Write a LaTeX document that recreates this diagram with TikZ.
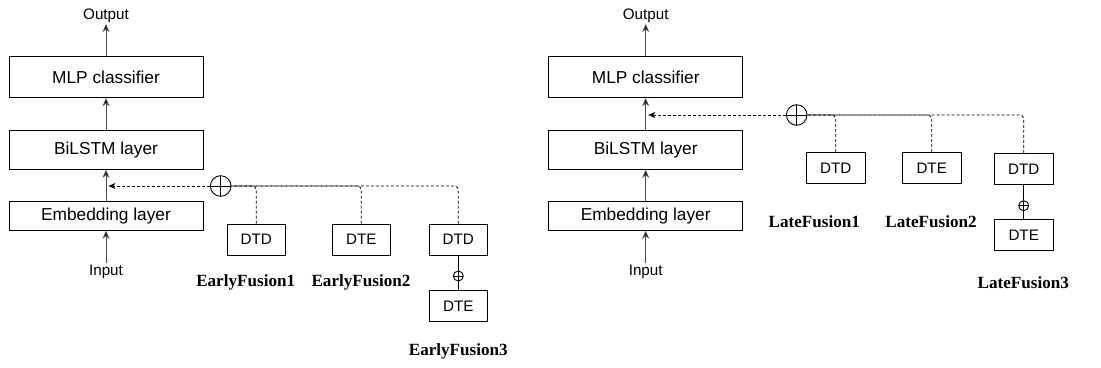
\documentclass[tikz,border=0pt]{standalone}
\usepackage{fontspec}
\setmainfont{Liberation Serif}
\setsansfont{Liberation Sans}
\usetikzlibrary{arrows.meta}

\begin{document}
\begin{tikzpicture}[x=1pt, y=-1pt, line width=0.9pt,
    layer/.style={draw, minimum width=194pt, inner sep=0pt, font=\sffamily\fontsize{17.3}{20}\selectfont},
    feat/.style={draw, minimum width=58.5pt, minimum height=31pt, inner sep=0pt, font=\sffamily\fontsize{15.2}{18}\selectfont},
    io/.style={inner sep=1pt, font=\sffamily\fontsize{15.2}{18}\selectfont},
    fusename/.style={font=\bfseries\fontsize{17.1}{20}\selectfont},
    bigplus/.style={draw, circle, minimum size=20.6pt, inner sep=0pt,
      path picture={\draw[line width=0.8pt] (path picture bounding box.north) -- (path picture bounding box.south)
        (path picture bounding box.west) -- (path picture bounding box.east);}},
    smallplus/.style={bigplus, minimum size=10pt},
    flow/.style={draw=black!70, -{Stealth[length=8pt, width=7pt, inset=2.5pt, fill=black]}},
    fuse/.style={draw=black, dashed, dash pattern=on 3pt off 2pt, line width=0.8pt, rounded corners=4pt}]
			\useasboundingbox (0,0) rectangle (1101,367);

			% early fusion
			\node[io] (out1) at (106, 15.7) {Output};
			\node[layer, minimum height=41pt] (mlp1) at (106, 77.2) {MLP classifier};
			\node[layer, minimum height=39.3pt] (bilstm1) at (106, 149.7) {BiLSTM layer};
			\node[layer, minimum height=29pt] (emb1) at (106, 215.8) {Embedding layer};
			\node[io] (in1) at (106, 271.7) {Input};
			\node[bigplus] (plus1) at (220.7, 186) {};
			\coordinate (tip1) at (108.5, 186);
			\node[feat] (dtdA) at (256.3, 239.5) {DTD};
			\node[feat] (dteB) at (361.3, 239.5) {DTE};
			\node[feat] (dtdC) at (458.3, 239.5) {DTD};
			\node[smallplus] (oplusC) at (458.3, 276) {};
			\node[feat] (dteC) at (458.3, 306.2) {DTE};
			\node[fusename] (ef1) at (245.7, 282.7) {EarlyFusion1};
			\node[fusename] (ef2) at (361, 282.7) {EarlyFusion2};
			\node[fusename] (ef3) at (458.3, 351.7) {EarlyFusion3};

			\draw[flow] (mlp1) -- (out1);
			\draw[flow] (bilstm1) -- (mlp1);
			\draw[flow] (emb1) -- (bilstm1);
			\draw[flow] (in1) -- (emb1);
			\draw[fuse] (dtdA.north) |- (plus1.east);
			\draw[fuse] (dteB.north) |- (plus1.east);
			\draw[fuse] (dtdC.north) |- (plus1.east);
			\draw[fuse, rounded corners=0pt, -{Stealth[length=7pt, width=6pt, inset=2pt, fill=black]}] (plus1) -- (tip1);
			\draw (dtdC) -- (oplusC);
			\draw (oplusC) -- (dteC);

			% late fusion
			\node[io] (out2) at (645.7, 15.7) {Output};
			\node[layer, minimum height=41pt] (mlp2) at (645.7, 77.2) {MLP classifier};
			\node[layer, minimum height=39.3pt] (bilstm2) at (645.7, 149.7) {BiLSTM layer};
			\node[layer, minimum height=29pt] (emb2) at (645.7, 215.8) {Embedding layer};
			\node[io] (in2) at (645.7, 271.7) {Input};
			\node[bigplus] (plus2) at (796.7, 115) {};
			\coordinate (tip2) at (648.3, 115);
			\node[feat] (dtdD) at (835.7, 168) {DTD};
			\node[feat] (dteE) at (931.7, 168) {DTE};
			\node[feat] (dtdF) at (1023.7, 168.8) {DTD};
			\node[smallplus] (oplusF) at (1023.7, 205.7) {};
			\node[feat] (dteF) at (1023.7, 235.3) {DTE};
			\node[fusename] (lf1) at (814.3, 221.7) {LateFusion1};
			\node[fusename] (lf2) at (931, 221.7) {LateFusion2};
			\node[fusename] (lf3) at (1023.3, 282.7) {LateFusion3};

			\draw[flow] (mlp2) -- (out2);
			\draw[flow] (bilstm2) -- (mlp2);
			\draw[flow] (emb2) -- (bilstm2);
			\draw[flow] (in2) -- (emb2);
			\draw[fuse] (dtdD.north) |- (plus2.east);
			\draw[fuse] (dteE.north) |- (plus2.east);
			\draw[fuse] (dtdF.north) |- (plus2.east);
			\draw[fuse, rounded corners=0pt, -{Stealth[length=7pt, width=6pt, inset=2pt, fill=black]}] (plus2) -- (tip2);
			\draw (dtdF) -- (oplusF);
			\draw (oplusF) -- (dteF);
		\end{tikzpicture}
\end{document}
